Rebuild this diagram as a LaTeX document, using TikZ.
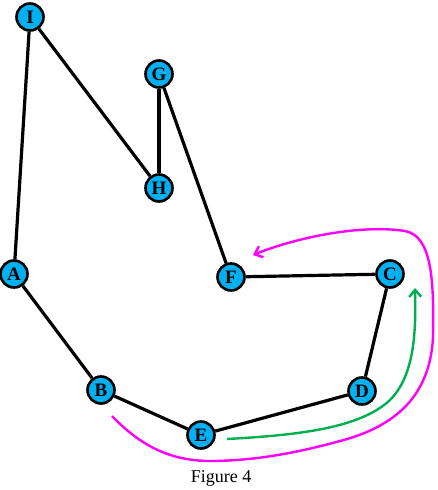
\documentclass[tikz,border=0pt]{standalone}
\usepackage{fontspec}
\setmainfont{Liberation Serif}
\usetikzlibrary{arrows.meta}
\definecolor{nodecyan}{RGB}{0,176,240}
\definecolor{pathmag}{RGB}{255,0,255}
\definecolor{pathgreen}{RGB}{0,176,80}
\begin{document}
\begin{tikzpicture}[x=1pt,y=-1pt,
  vtx/.style={circle,draw=black,line width=2.6pt,fill=nodecyan,minimum size=27pt,inner sep=0pt,font=\bfseries\fontsize{19}{19}\selectfont},
  edge/.style={line width=3.2pt,black},
  walk/.style={line width=2.4pt,-{Straight Barb[length=7pt,width=12pt,line width=2.4pt]}}]
\useasboundingbox (0,0) rectangle (437,490);
\node[vtx] (I) at (30,17) {I};
\node[vtx] (G) at (159,74) {G};
\node[vtx] (H) at (159,188) {H};
\node[vtx] (A) at (14,274) {A};
\node[vtx] (F) at (231,277) {F};
\node[vtx] (C) at (390,274) {C};
\node[vtx] (D) at (362,391) {D};
\node[vtx] (E) at (201,435) {E};
\node[vtx] (B) at (101,390) {B};
\draw[edge] (I) -- (A);
\draw[edge] (I) -- (H);
\draw[edge,line width=4pt] (G) -- (H);
\draw[edge] (G) -- (F);
\draw[edge] (A) -- (B);
\draw[edge] (B) -- (E);
\draw[edge] (E) -- (D);
\draw[edge] (D) -- (C);
\draw[edge] (C) -- (F);
\coordinate (m0) at (112,416);
\coordinate (m1) at (253,255);
\draw[walk,pathmag] (m0) .. controls (140,445) and (170,462) .. (215,461)
  .. controls (260,460) and (300,452) .. (340,441)
  .. controls (390,428) and (430,400) .. (433,337)
  .. controls (434,280) and (432,236) .. (405,231)
  .. controls (360,224) and (295,238) .. (m1);
\coordinate (g0) at (227,439);
\coordinate (g1) at (415,288);
\draw[walk,pathgreen] (g0) .. controls (300,435) and (360,428) .. (390,400)
  .. controls (415,375) and (416,330) .. (g1);
\node[font=\fontsize{18}{18}\selectfont] (cap) at (221,478) {Figure 4};
\end{tikzpicture}
\end{document}
